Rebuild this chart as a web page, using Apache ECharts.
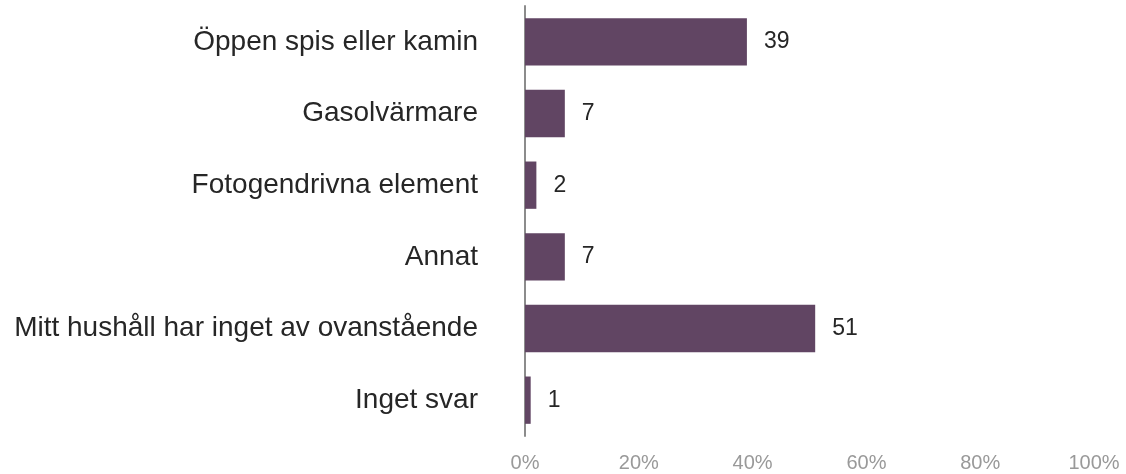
<!DOCTYPE html>
<html>
<head>
<meta charset="utf-8">
<script src="https://cdn.jsdelivr.net/npm/echarts@6/dist/echarts.min.js"></script>
<style>
  html, body { margin: 0; padding: 0; background: #fff; }
  #chart { width: 1126px; height: 474px; }
</style>
</head>
<body>
<div id="chart"></div>
<script>
const categories = [
  'Öppen spis eller kamin',
  'Gasolvärmare',
  'Fotogendrivna element',
  'Annat',
  'Mitt hushåll har inget av ovanstående',
  'Inget svar'
]
const values = [39, 7, 2, 7, 51, 1]
const tickLabels = ['0%', '20%', '40%', '60%', '80%', '100%']

const chart = echarts.init(document.getElementById('chart'), null, { renderer: 'canvas' })
chart.setOption({
  backgroundColor: '#fff',
  animation: false,
  grid: { top: 6, bottom: 38, left: 525, right: 32, containLabel: false },
  xAxis: {
    type: 'value',
    min: 0, max: 100, interval: 20,
    axisLine: { show: false },
    axisTick: { show: false },
    splitLine: { show: false },
    axisLabel: {
      color: '#999999', fontSize: 20, fontFamily: 'Liberation Sans, Arial, sans-serif',
      margin: 17,
      formatter: (v) => tickLabels[v / 20]
    }
  },
  yAxis: {
    type: 'category',
    inverse: true,
    data: categories,
    axisLine: { show: true, lineStyle: { color: '#8c8c8c', width: 2 } },
    axisTick: { show: false },
    axisLabel: {
      color: '#262626', fontSize: 28, fontFamily: 'Liberation Sans, Arial, sans-serif',
      margin: 47
    }
  },
  series: [{
    type: 'bar',
    data: values,
    barCategoryGap: '34%',
    itemStyle: { color: '#614563' },
    label: {
      show: true, position: 'right', distance: 17,
      color: '#262626', fontSize: 23, fontFamily: 'Liberation Sans, Arial, sans-serif'
    }
  }]
})
</script>
</body>
</html>
